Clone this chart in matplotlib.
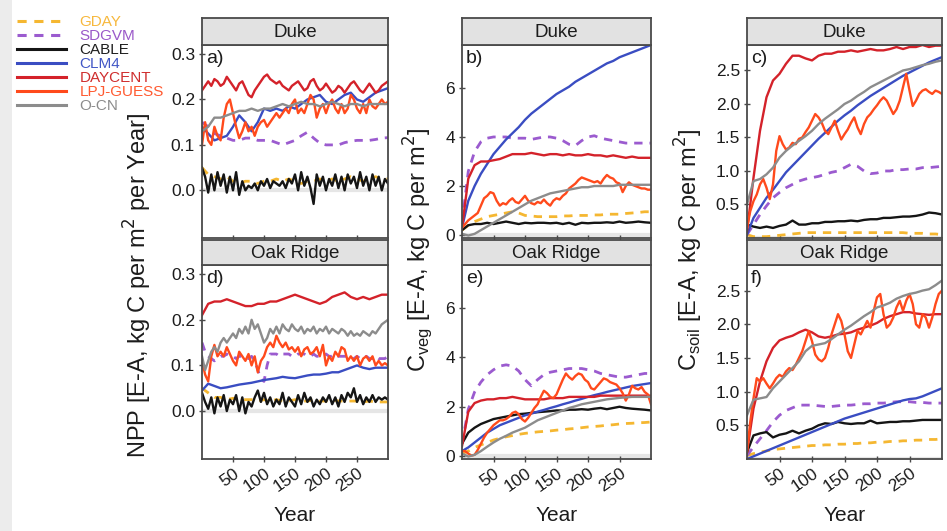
import numpy as np
import matplotlib.pyplot as plt
from matplotlib.lines import Line2D
from matplotlib.patches import Rectangle

plt.rcParams['font.family'] = ['Liberation Sans', 'DejaVu Sans']

# years of the simulation (0..300)
years_5 = np.arange(0, 301, 5)
years_10 = np.arange(0, 301, 10)

models = ['GDAY', 'SDGVM', 'CABLE', 'CLM4', 'DAYCENT', 'LPJ-GUESS', 'O-CN']
line_colors = ['#f5b731', '#9b5bcf', '#151515', '#3a4dc2', '#d4222a', '#ff4a1c', '#8c8c8c']
text_colors = ['#f7b83c', '#9a58c9', '#1e1e1e', '#4257c6', '#cf2d2d', '#ff5a30', '#8c8c8c']
dashed = [True, True, False, False, False, False, False]

# ---------------- a) NPP, Duke ----------------
npp_duke_gday = [0.05, 0.035, 0.03, 0.025, 0.03, 0.02, 0.015, 0.02, 0.02, 0.015,
                 0.02, 0.02, 0.025, 0.02, 0.025, 0.02, 0.015, 0.02, 0.02, 0.025,
                 0.02, 0.025, 0.02, 0.025, 0.03, 0.025, 0.02, 0.025, 0.03, 0.025,
                 0.025]
npp_duke_sdgvm = [0.15, 0.14, 0.125, 0.12, 0.115, 0.11, 0.11, 0.115, 0.115, 0.11,
                  0.11, 0.11, 0.105, 0.10, 0.105, 0.11, 0.12, 0.128, 0.115, 0.104,
                  0.10, 0.10, 0.10, 0.105, 0.108, 0.11, 0.11, 0.11, 0.112, 0.115,
                  0.116]
npp_duke_cable = [0.05, 0.03, -0.005, 0.035, 0.0, 0.04, 0.01, 0.035, -0.005, 0.03,
                  0.0, 0.04, -0.01, 0.02, 0.0, 0.01, 0.005, 0.015, 0.0, 0.02,
                  0.01, 0.025, 0.005, 0.02, 0.015, 0.01, 0.02, 0.005, 0.025, 0.015,
                  0.035, 0.0, 0.04, 0.01, 0.03, 0.005, -0.03, 0.035, 0.01, 0.03,
                  0.0, 0.025, 0.01, 0.035, 0.005, 0.03, 0.0, 0.035, 0.015, 0.03,
                  0.005, 0.04, 0.01, 0.03, 0.0, 0.035, 0.01, 0.03, 0.0, 0.025,
                  0.015]
npp_duke_clm4 = [0.14, 0.125, 0.11, 0.115, 0.12, 0.14, 0.165, 0.15, 0.13, 0.15,
                 0.18, 0.175, 0.18, 0.175, 0.185, 0.18, 0.19, 0.2, 0.205, 0.21,
                 0.195, 0.19, 0.2, 0.21, 0.215, 0.2, 0.195, 0.205, 0.215, 0.22,
                 0.225]
npp_duke_daycent = [0.22, 0.23, 0.24, 0.23, 0.245, 0.24, 0.23, 0.235, 0.25, 0.24,
                    0.23, 0.22, 0.235, 0.24, 0.225, 0.21, 0.205, 0.22, 0.23, 0.24,
                    0.25, 0.255, 0.245, 0.24, 0.235, 0.24, 0.23, 0.225, 0.22, 0.23,
                    0.235, 0.24, 0.23, 0.22, 0.225, 0.24, 0.245, 0.23, 0.22, 0.225,
                    0.235, 0.225, 0.215, 0.22, 0.23, 0.225, 0.215, 0.225, 0.235, 0.24,
                    0.23, 0.22, 0.215, 0.225, 0.235, 0.225, 0.215, 0.22, 0.23, 0.235,
                    0.24]
npp_duke_lpj = [0.10, 0.15, 0.11, 0.10, 0.14, 0.12, 0.11, 0.16, 0.19, 0.2,
                0.17, 0.14, 0.115, 0.13, 0.15, 0.13, 0.14, 0.12, 0.14, 0.15,
                0.155, 0.14, 0.15, 0.16, 0.17, 0.16, 0.17, 0.18, 0.17, 0.19,
                0.2, 0.17, 0.18, 0.17, 0.19, 0.21, 0.2, 0.16, 0.18, 0.19,
                0.17, 0.19, 0.2, 0.18, 0.17, 0.19, 0.17, 0.18, 0.21, 0.2,
                0.18, 0.17, 0.19, 0.17, 0.2, 0.185, 0.18, 0.19, 0.2, 0.19,
                0.195]
npp_duke_ocn = [0.13, 0.14, 0.16, 0.16, 0.165, 0.17, 0.175, 0.175, 0.18, 0.175,
                0.18, 0.18, 0.185, 0.19, 0.185, 0.19, 0.195, 0.19, 0.19, 0.185,
                0.19, 0.195, 0.19, 0.185, 0.19, 0.19, 0.185, 0.19, 0.19, 0.19,
                0.19]

# ---------------- d) NPP, Oak Ridge ----------------
npp_oak_gday = [0.05, 0.04, 0.03, 0.03, 0.025, 0.028, 0.025, 0.025, 0.025, 0.022,
                0.025, 0.022, 0.025, 0.022, 0.022, 0.025, 0.022, 0.022, 0.025, 0.022,
                0.022, 0.025, 0.022, 0.022, 0.022, 0.022, 0.02, 0.022, 0.02, 0.02,
                0.02]
npp_oak_sdgvm = [0.15, 0.13, 0.12, 0.115, 0.11, 0.115, 0.12, 0.12, 0.125, 0.12,
                 0.12, 0.115, 0.12, 0.12, 0.115, 0.115, 0.12, 0.11, 0.09, 0.07,
                 0.065, 0.1, 0.125, 0.125, 0.125, 0.12, 0.125, 0.125, 0.125, 0.12,
                 0.12, 0.125, 0.125, 0.125, 0.12, 0.12, 0.125, 0.12, 0.12, 0.12,
                 0.125, 0.12, 0.12, 0.125, 0.12, 0.12, 0.12, 0.12, 0.115, 0.115,
                 0.12, 0.115, 0.115, 0.12, 0.115, 0.115, 0.12, 0.115, 0.115, 0.115,
                 0.12]
npp_oak_cable = [0.04, 0.02, 0.005, 0.03, -0.005, 0.03, 0.01, 0.035, 0.0, 0.025,
                 0.015, 0.035, 0.0, 0.03, -0.005, 0.02, 0.01, 0.03, 0.045, 0.02,
                 0.04, 0.015, 0.03, 0.01, 0.025, 0.015, 0.04, 0.01, 0.03, 0.02,
                 0.01, 0.035, 0.015, 0.04, 0.02, 0.03, 0.01, 0.025, 0.015, 0.03,
                 0.02, 0.035, 0.015, 0.03, 0.01, 0.035, 0.02, 0.04, 0.03, 0.05,
                 0.02, 0.035, 0.015, 0.03, 0.02, 0.035, 0.02, 0.03, 0.025, 0.03,
                 0.025]
npp_oak_clm4 = [0.045, 0.06, 0.055, 0.05, 0.052, 0.055, 0.058, 0.06, 0.062, 0.065,
                0.068, 0.07, 0.072, 0.075, 0.073, 0.072, 0.075, 0.078, 0.08, 0.08,
                0.082, 0.085, 0.085, 0.09, 0.095, 0.1, 0.095, 0.092, 0.095, 0.095,
                0.095]
npp_oak_daycent = [0.21, 0.235, 0.24, 0.24, 0.245, 0.24, 0.235, 0.23, 0.23, 0.235,
                   0.235, 0.24, 0.24, 0.245, 0.25, 0.255, 0.25, 0.245, 0.24, 0.235,
                   0.24, 0.25, 0.255, 0.26, 0.25, 0.245, 0.25, 0.245, 0.25, 0.255,
                   0.255]
npp_oak_lpj = [0.11, 0.08, 0.065, 0.12, 0.145, 0.12, 0.13, 0.12, 0.14, 0.125,
               0.11, 0.1, 0.13, 0.12, 0.11, 0.125, 0.1, 0.12, 0.085, 0.11,
               0.12, 0.14, 0.15, 0.14, 0.165, 0.15, 0.14, 0.15, 0.135, 0.14,
               0.13, 0.14, 0.12, 0.135, 0.14, 0.125, 0.13, 0.14, 0.12, 0.145,
               0.1, 0.12, 0.11, 0.13, 0.12, 0.14, 0.135, 0.11, 0.12, 0.11,
               0.12, 0.1, 0.115, 0.12, 0.11, 0.12, 0.1, 0.11, 0.1, 0.105,
               0.1]
npp_oak_ocn = [0.12, 0.09, 0.11, 0.13, 0.14, 0.13, 0.15, 0.16, 0.15, 0.16,
               0.17, 0.16, 0.18, 0.17, 0.185, 0.17, 0.2, 0.18, 0.19, 0.17,
               0.15, 0.16, 0.18, 0.17, 0.185, 0.17, 0.19, 0.18, 0.175, 0.19,
               0.18, 0.175, 0.185, 0.17, 0.18, 0.175, 0.185, 0.17, 0.18, 0.175,
               0.185, 0.17, 0.18, 0.175, 0.17, 0.18, 0.175, 0.165, 0.175, 0.165,
               0.17, 0.165, 0.175, 0.17, 0.165, 0.175, 0.17, 0.18, 0.19, 0.195,
               0.2]

# ---------------- b) Cveg, Duke ----------------
cveg_duke_gday = [0.2, 0.4, 0.55, 0.65, 0.75, 0.8, 0.85, 0.9, 0.95, 0.9,
                  0.8, 0.78, 0.75, 0.75, 0.75, 0.75, 0.78, 0.78, 0.8, 0.8,
                  0.8, 0.82, 0.82, 0.85, 0.85, 0.85, 0.88, 0.9, 0.92, 0.95,
                  0.95]
cveg_duke_sdgvm = [0.5, 2.6, 3.4, 3.8, 3.95, 4.0, 4.0, 4.0, 3.95, 3.95,
                   3.95, 3.9, 3.95, 4.0, 4.0, 3.95, 3.85, 3.7, 3.65, 3.85,
                   4.0, 4.05, 3.95, 3.9, 3.85, 3.8, 3.75, 3.75, 3.75, 3.75,
                   3.75]
cveg_duke_cable = [0.2, 0.4, 0.45, 0.45, 0.5, 0.45, 0.5, 0.55, 0.5, 0.45,
                   0.5, 0.48, 0.5, 0.5, 0.48, 0.5, 0.45, 0.5, 0.42, 0.5,
                   0.48, 0.5, 0.5, 0.52, 0.5, 0.55, 0.5, 0.52, 0.55, 0.52,
                   0.5]
cveg_duke_clm4 = [0.3, 1.4, 2.0, 2.5, 2.9, 3.3, 3.6, 3.9, 4.15, 4.4,
                  4.7, 4.95, 5.15, 5.35, 5.55, 5.75, 5.9, 6.05, 6.25, 6.4,
                  6.55, 6.7, 6.85, 7.0, 7.1, 7.25, 7.35, 7.45, 7.55, 7.65,
                  7.75]
cveg_duke_daycent = [0.3, 2.3, 2.85, 3.0, 3.0, 3.05, 3.1, 3.2, 3.3, 3.3,
                     3.3, 3.35, 3.3, 3.25, 3.3, 3.3, 3.25, 3.3, 3.25, 3.25,
                     3.3, 3.25, 3.25, 3.2, 3.25, 3.2, 3.15, 3.2, 3.15, 3.15,
                     3.15]
cveg_duke_lpj = [0.3, 0.45, 0.6, 0.7, 0.8, 0.9, 1.2, 1.5, 1.6, 1.75,
                 1.7, 1.4, 1.2, 1.3, 1.25, 1.4, 1.5, 1.35, 1.3, 1.45,
                 1.6, 1.4, 1.3, 1.25, 1.35, 1.3, 1.45, 1.3, 1.2, 1.4,
                 1.5, 1.45, 1.6, 1.7, 1.9, 2.0, 2.1, 2.25, 2.35, 2.3,
                 2.25, 2.2, 2.15, 2.2, 2.1, 2.3, 2.45, 2.35, 2.3, 2.15,
                 2.1, 1.75, 2.0, 2.15, 2.05, 2.0, 1.95, 1.9, 1.9, 1.85,
                 1.85]
cveg_duke_ocn = [0.05, -0.02, 0.05, 0.2, 0.35, 0.5, 0.65, 0.8, 0.95, 1.1,
                 1.25, 1.4, 1.5, 1.6, 1.7, 1.75, 1.8, 1.85, 1.9, 1.95,
                 1.95, 2.0, 2.0, 2.0, 2.0, 2.05, 2.05, 2.05, 2.05, 2.05,
                 2.05]

# ---------------- e) Cveg, Oak Ridge ----------------
cveg_oak_gday = [0.1, 0.2, 0.35, 0.45, 0.55, 0.65, 0.72, 0.78, 0.83, 0.88,
                 0.92, 0.95, 0.98, 1.0, 1.02, 1.05, 1.07, 1.1, 1.12, 1.15,
                 1.18, 1.2, 1.22, 1.25, 1.27, 1.3, 1.32, 1.33, 1.35, 1.36,
                 1.38]
cveg_oak_sdgvm = [0.5, 1.9, 2.6, 3.0, 3.3, 3.5, 3.65, 3.7, 3.65, 3.45,
                  3.1, 2.85, 3.1, 3.3, 3.4, 3.45, 3.5, 3.55, 3.55, 3.55,
                  3.5, 3.45, 3.35, 3.3, 3.25, 3.2, 3.2, 3.25, 3.3, 3.35,
                  3.35]
cveg_oak_cable = [0.5, 0.95, 1.15, 1.3, 1.4, 1.5, 1.55, 1.6, 1.65, 1.7,
                  1.72, 1.75, 1.78, 1.8, 1.82, 1.85, 1.85, 1.88, 1.88, 1.9,
                  1.88, 1.92, 1.95, 1.9, 1.95, 2.0, 1.95, 1.92, 1.9, 1.88,
                  1.85]
cveg_oak_clm4 = [0.2, 0.35, 0.55, 0.75, 0.95, 1.1, 1.25, 1.35, 1.45, 1.55,
                 1.65, 1.72, 1.8, 1.87, 1.95, 2.02, 2.1, 2.17, 2.25, 2.32,
                 2.4, 2.47, 2.53, 2.6, 2.66, 2.72, 2.78, 2.84, 2.88, 2.92,
                 2.96]
cveg_oak_daycent = [0.4, 1.8, 2.15, 2.25, 2.3, 2.3, 2.35, 2.35, 2.4, 2.35,
                    2.3, 2.3, 2.3, 2.3, 2.35, 2.35, 2.35, 2.4, 2.4, 2.4,
                    2.4, 2.4, 2.45, 2.45, 2.45, 2.45, 2.45, 2.45, 2.45, 2.45,
                    2.45]
cveg_oak_lpj = [0.2, 0.2, 0.1, 0.02, 0.05, 0.25, 0.5, 0.75, 0.95, 1.1,
                1.25, 1.35, 1.45, 1.45, 1.5, 1.6, 1.75, 1.8, 1.7, 1.5,
                1.4, 1.55, 1.75, 1.95, 2.1, 2.4, 2.65, 2.55, 2.4, 2.35,
                2.5, 2.8, 3.1, 3.35, 3.2, 3.1, 3.25, 3.35, 3.3, 3.1,
                3.0, 2.75, 2.7, 2.85, 3.0, 3.15, 3.1, 3.0, 2.95, 2.9,
                2.75, 2.55, 2.25, 2.5, 2.85, 2.75, 2.7, 2.8, 2.6, 2.5,
                2.1]
cveg_oak_ocn = [0.1, -0.02, 0.05, 0.2, 0.38, 0.55, 0.7, 0.82, 0.95, 1.05,
                1.15, 1.3, 1.45, 1.55, 1.65, 1.75, 1.85, 1.95, 2.02, 2.1,
                2.15, 2.2, 2.25, 2.3, 2.33, 2.36, 2.38, 2.4, 2.4, 2.4,
                2.4]

# ---------------- c) Csoil, Duke ----------------
csoil_duke_gday = [0.05, 0.02, 0.02, 0.02, 0.03, 0.04, 0.05, 0.06, 0.07, 0.08,
                   0.08, 0.08, 0.08, 0.08, 0.08, 0.08, 0.08, 0.08, 0.08, 0.08,
                   0.08, 0.08, 0.08, 0.08, 0.08, 0.07, 0.07, 0.07, 0.06, 0.06,
                   0.05]
csoil_duke_sdgvm = [0.05, 0.2, 0.35, 0.48, 0.6, 0.68, 0.75, 0.8, 0.85, 0.88,
                    0.9, 0.92, 0.95, 0.98, 1.0, 1.05, 1.1, 1.07, 1.0, 0.96,
                    0.97, 1.0, 1.0, 1.02, 1.02, 1.03, 1.03, 1.05, 1.05, 1.06,
                    1.07]
csoil_duke_cable = [0.2, 0.17, 0.15, 0.17, 0.15, 0.18, 0.2, 0.26, 0.2, 0.2,
                    0.22, 0.22, 0.24, 0.24, 0.25, 0.25, 0.26, 0.25, 0.27, 0.28,
                    0.28, 0.3, 0.3, 0.31, 0.32, 0.32, 0.33, 0.35, 0.38, 0.37,
                    0.35]
csoil_duke_clm4 = [0.05, 0.3, 0.45, 0.6, 0.72, 0.85, 0.98, 1.08, 1.18, 1.28,
                   1.38, 1.48, 1.57, 1.66, 1.75, 1.83, 1.9, 1.98, 2.05, 2.12,
                   2.18, 2.24, 2.3, 2.36, 2.42, 2.47, 2.52, 2.57, 2.62, 2.66,
                   2.7]
csoil_duke_daycent = [0.1, 0.9, 1.6, 2.1, 2.35, 2.45, 2.6, 2.72, 2.72, 2.68,
                      2.65, 2.72, 2.75, 2.75, 2.78, 2.78, 2.8, 2.78, 2.8, 2.82,
                      2.8, 2.8, 2.82, 2.85, 2.82, 2.85, 2.85, 2.88, 2.85, 2.87,
                      2.87]
csoil_duke_lpj = [0.15, 0.4, 0.55, 0.65, 0.8, 0.88, 0.75, 0.58, 0.8, 1.3,
                  1.52, 1.4, 1.32, 1.35, 1.42, 1.4, 1.48, 1.5, 1.58, 1.65,
                  1.75, 1.85, 1.8, 1.72, 1.6, 1.55, 1.65, 1.75, 1.6, 1.47,
                  1.55, 1.62, 1.72, 1.8, 1.65, 1.55, 1.7, 1.8, 1.85, 1.92,
                  1.98, 2.05, 2.1, 2.05, 1.95, 1.85, 1.92, 2.05, 2.25, 2.45,
                  2.2, 1.97, 2.05, 2.15, 2.2, 2.22, 2.18, 2.15, 2.2, 2.18,
                  2.15]
csoil_duke_ocn = [0.5, 0.85, 0.88, 0.95, 1.05, 1.2, 1.3, 1.38, 1.45, 1.52,
                  1.6, 1.7, 1.78, 1.85, 1.92, 2.0, 2.05, 2.12, 2.18, 2.25,
                  2.3, 2.35, 2.4, 2.45, 2.5, 2.52, 2.55, 2.58, 2.6, 2.63,
                  2.65]

# ---------------- f) Csoil, Oak Ridge ----------------
csoil_oak_gday = [0.05, 0.08, 0.1, 0.12, 0.14, 0.15, 0.16, 0.17, 0.18, 0.19,
                  0.2, 0.2, 0.21, 0.21, 0.22, 0.22, 0.23, 0.23, 0.24, 0.24,
                  0.25, 0.25, 0.26, 0.26, 0.27, 0.27, 0.28, 0.28, 0.29, 0.29,
                  0.3]
csoil_oak_sdgvm = [0.05, 0.18, 0.3, 0.42, 0.55, 0.65, 0.72, 0.76, 0.8, 0.8,
                   0.8, 0.79, 0.78, 0.78, 0.79, 0.8, 0.8, 0.81, 0.82, 0.82,
                   0.83, 0.83, 0.84, 0.85, 0.85, 0.85, 0.84, 0.84, 0.83, 0.83,
                   0.83]
csoil_oak_cable = [0.1, 0.35, 0.38, 0.4, 0.32, 0.36, 0.38, 0.42, 0.38, 0.42,
                   0.45, 0.5, 0.53, 0.52, 0.55, 0.53, 0.52, 0.53, 0.53, 0.57,
                   0.53, 0.54, 0.55, 0.55, 0.56, 0.56, 0.57, 0.58, 0.58, 0.58,
                   0.58]
csoil_oak_clm4 = [0.0, 0.04, 0.08, 0.12, 0.16, 0.2, 0.24, 0.28, 0.32, 0.36,
                  0.4, 0.44, 0.48, 0.52, 0.56, 0.6, 0.63, 0.66, 0.69, 0.72,
                  0.75, 0.78, 0.81, 0.84, 0.87, 0.89, 0.9, 0.93, 0.97, 1.01,
                  1.05]
csoil_oak_daycent = [0.1, 0.75, 1.15, 1.45, 1.65, 1.76, 1.8, 1.83, 1.88, 1.92,
                     1.88, 1.82, 1.8, 1.82, 1.85, 1.86, 1.88, 1.92, 1.95, 1.98,
                     2.02, 2.08, 2.12, 2.15, 2.18, 2.18, 2.16, 2.15, 2.14, 2.15,
                     2.15]
csoil_oak_lpj = [0.1, 0.55, 0.9, 1.2, 1.15, 1.2, 1.12, 1.05, 1.12, 1.2,
                 1.25, 1.22, 1.3, 1.35, 1.32, 1.4, 1.5, 1.6, 1.75, 1.9,
                 1.75, 1.55, 1.48, 1.45, 1.5, 1.65, 1.85, 2.0, 2.15, 2.05,
                 1.85, 1.6, 1.5, 1.7, 1.9, 1.85, 1.95, 2.05, 1.95, 2.2,
                 2.4, 2.45, 2.15, 1.95, 2.0, 2.1, 2.25, 2.35, 2.2, 2.35,
                 2.45, 2.3, 2.0, 1.95, 2.15, 2.1, 1.95, 2.1, 2.3, 2.45,
                 2.5]
csoil_oak_ocn = [0.65, 0.88, 0.9, 0.92, 1.05, 1.15, 1.25, 1.35, 1.45, 1.6,
                 1.68, 1.7, 1.72, 1.78, 1.85, 1.92, 1.98, 2.05, 2.12, 2.18,
                 2.25, 2.28, 2.32, 2.38, 2.42, 2.45, 2.47, 2.5, 2.52, 2.58,
                 2.65]

# panel set-up: (row, col, tag, site, series in model order)
panels = [
    (0, 0, 'a)', 'Duke', [npp_duke_gday, npp_duke_sdgvm, npp_duke_cable, npp_duke_clm4,
                          npp_duke_daycent, npp_duke_lpj, npp_duke_ocn]),
    (1, 0, 'd)', 'Oak Ridge', [npp_oak_gday, npp_oak_sdgvm, npp_oak_cable, npp_oak_clm4,
                               npp_oak_daycent, npp_oak_lpj, npp_oak_ocn]),
    (0, 1, 'b)', 'Duke', [cveg_duke_gday, cveg_duke_sdgvm, cveg_duke_cable, cveg_duke_clm4,
                          cveg_duke_daycent, cveg_duke_lpj, cveg_duke_ocn]),
    (1, 1, 'e)', 'Oak Ridge', [cveg_oak_gday, cveg_oak_sdgvm, cveg_oak_cable, cveg_oak_clm4,
                               cveg_oak_daycent, cveg_oak_lpj, cveg_oak_ocn]),
    (0, 2, 'c)', 'Duke', [csoil_duke_gday, csoil_duke_sdgvm, csoil_duke_cable, csoil_duke_clm4,
                          csoil_duke_daycent, csoil_duke_lpj, csoil_duke_ocn]),
    (1, 2, 'f)', 'Oak Ridge', [csoil_oak_gday, csoil_oak_sdgvm, csoil_oak_cable, csoil_oak_clm4,
                               csoil_oak_daycent, csoil_oak_lpj, csoil_oak_ocn]),
]

col_ylim = [(-0.105, 0.32), (-0.12, 7.75), (0.0, 2.88)]
col_yticks = [[0.0, 0.1, 0.2, 0.3], [0, 2, 4, 6], [0.5, 1.0, 1.5, 2.0, 2.5]]
col_yfmt = ['{:.1f}', '{:.0f}', '{:.1f}']
col_ylabel = ['NPP [E-A, kg C per m$^2$ per Year]',
              'C$_{\\mathregular{veg}}$ [E-A, kg C per m$^2$]',
              'C$_{\\mathregular{soil}}$ [E-A, kg C per m$^2$]']

W, H = 947, 531
col_x = [(202, 388), (462, 651), (747, 942)]
row_y = [(45, 238), (265, 459)]      # plot area top/bottom in pixels
strip_y = [(18, 45), (240, 265)]
ylabel_x = [138, 418, 689]
ylabel_y = [285, 250, 250]

edge = '#4a4a4a'
ink = '#1c1c1c'

fig = plt.figure(figsize=(W / 100, H / 100), dpi=100)
fig.patches.append(Rectangle((0, 0), 12 / W, 1, transform=fig.transFigure,
                             facecolor='#ececec', edgecolor='none', zorder=-5))


def box(x0, x1, y0, y1):
    return [x0 / W, 1 - y1 / H, (x1 - x0) / W, (y1 - y0) / H]


for row, col, tag, site, series in panels:
    x0, x1 = col_x[col]
    ax = fig.add_axes(box(x0, x1, *row_y[row]))
    ax.axhline(0, color='#e6e6e6', lw=3, zorder=0)
    for vals, c, d in zip(series, line_colors, dashed):
        x = years_5 if len(vals) == 61 else years_10
        if d:
            ax.plot(x, vals, color=c, lw=2.0, ls=(0, (3, 2.5)))
        else:
            ax.plot(x, vals, color=c, lw=1.7)
    ax.set_xlim(0, 300)
    ax.set_ylim(*col_ylim[col])
    ax.set_yticks(col_yticks[col])
    ax.set_yticklabels([col_yfmt[col].format(v) for v in col_yticks[col]])
    ax.set_xticks([50, 100, 150, 200, 250])
    if row == 1:
        ax.set_xticklabels(['50', '100', '150', '200', '250'], rotation=35,
                           ha='right', rotation_mode='anchor')
        ax.set_xlabel('Year', fontsize=15, labelpad=8, color=ink)
    else:
        ax.set_xticklabels([])
    ax.tick_params(direction='inout', length=4, width=1, color=edge,
                   labelsize=12.5, labelcolor=ink, pad=3)
    for s in ax.spines.values():
        s.set_color(edge)
        s.set_linewidth(1.3)
    ax.text(0.02, 0.975, tag, transform=ax.transAxes, ha='left', va='top',
            fontsize=14, color=ink)

    # facet strip
    sx = fig.add_axes(box(x0, x1, *strip_y[row]))
    sx.set_facecolor('#e2e2e2')
    sx.set_xticks([])
    sx.set_yticks([])
    for s in sx.spines.values():
        s.set_color(edge)
        s.set_linewidth(1.3)
    sx.text(0.5, 0.48, site, transform=sx.transAxes, ha='center', va='center',
            fontsize=13.5, color=ink)

for col in range(3):
    fig.text(ylabel_x[col] / W, 1 - ylabel_y[col] / H, col_ylabel[col],
             rotation=90, ha='center', va='center', fontsize=17, color=ink)

handles = [Line2D([], [], color=c, lw=2.2, ls=(0, (3, 2.5)) if d else '-')
           for c, d in zip(line_colors, dashed)]
fig.legend(handles, models, loc='upper left', bbox_to_anchor=(17 / W, 1 - 15 / H),
           frameon=False, fontsize=11, labelspacing=0.0, handlelength=3.2,
           handletextpad=0.9, borderpad=0, borderaxespad=0, labelcolor=text_colors)

fig.savefig('out.png', dpi=100)
